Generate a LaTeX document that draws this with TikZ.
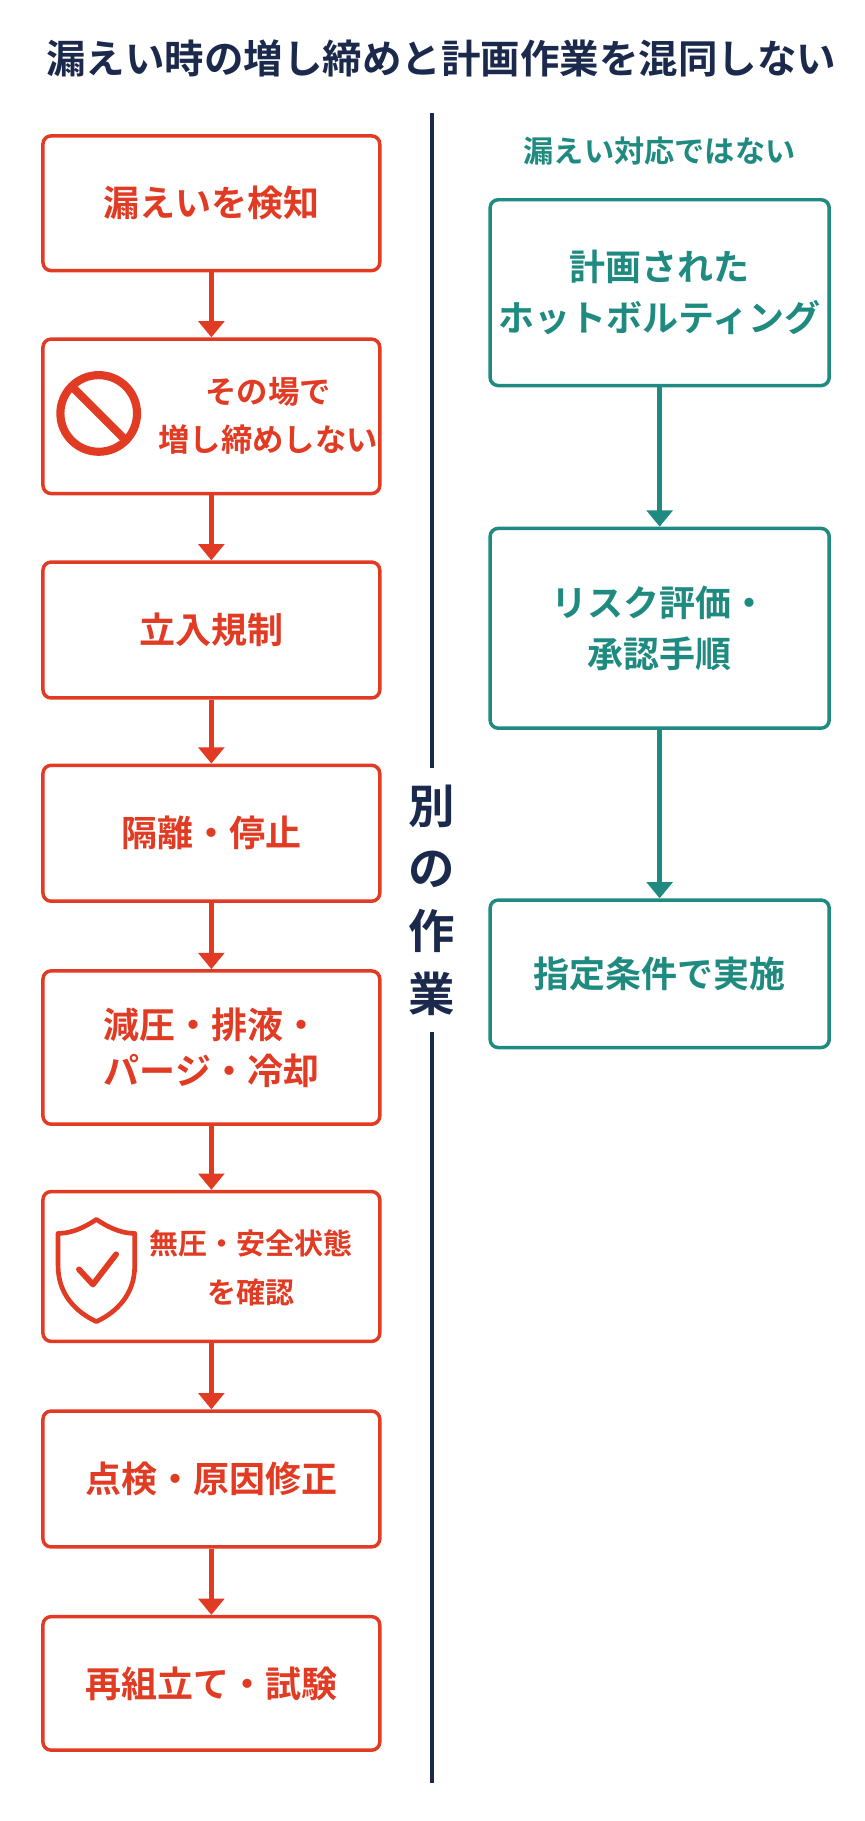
\documentclass[tikz,border=0pt]{standalone}
\usepackage{fontspec}
\setmainfont{Noto Sans CJK JP}[BoldFont={Noto Sans CJK JP Bold}]
\usetikzlibrary{arrows.meta}
\usetikzlibrary{positioning}
\definecolor{leakred}{HTML}{E23B24}
\definecolor{planteal}{HTML}{1F8B80}
\definecolor{navy}{HTML}{1B2A4C}
\tikzset{
  redbox/.style={draw=leakred, line width=3pt, rounded corners=7pt, minimum width=290pt, text=leakred, font=\fontsize{31}{40}\selectfont\bfseries, align=center},
  tealbox/.style={draw=planteal, line width=3pt, rounded corners=7pt, minimum width=292pt, text=planteal, font=\fontsize{31}{44}\selectfont\bfseries, align=center},
  redarrow/.style={leakred, line width=4pt, -{Triangle[length=14pt,width=22pt]}},
  tealarrow/.style={planteal, line width=4pt, -{Triangle[length=14pt,width=22pt]}}
}
\begin{document}
\begin{tikzpicture}[x=1pt,y=-1pt]
\useasboundingbox (0,0) rectangle (744,1568);
\fill[white] (0,0) rectangle (744,1568);

\node[text=navy, font=\fontsize{34}{40}\selectfont\bfseries] (title) at (380,50) {漏えい時の増し締めと計画作業を混同しない};

% left column
\node[redbox, minimum height=116pt] (detect) at (182,175) {漏えいを検知};
\node[redbox, minimum height=133pt] (notight) at (182,358.5) {};
\node[text=leakred, font=\fontsize{27}{42}\selectfont\bfseries, align=center] (notighttext) at (231,358) {その場で\\増し締めしない};
\node[redbox, minimum height=117pt] (access) at (182,542.5) {立入規制};
\node[redbox, minimum height=117pt] (isolate) at (182,717.5) {隔離・停止};
\node[redbox, minimum height=132pt] (depress) at (182,902) {減圧・排液・\\パージ・冷却};
\node[redbox, minimum height=129pt] (confirm) at (182,1090.5) {};
\node[text=leakred, font=\fontsize{25}{42}\selectfont\bfseries, align=center] (confirmtext) at (216,1092) {無圧・安全状態\\を確認};
\node[redbox, minimum height=117pt] (inspect) at (182,1273.5) {点検・原因修正};
\node[redbox, minimum height=115pt] (reassemble) at (182,1449.5) {再組立て・試験};

% icons
\draw[leakred, line width=7pt] (85,356) circle (33pt);
\draw[leakred, line width=7pt] (62,333) -- (108,379);
\draw[leakred, line width=4pt, line join=round] (83,1050) .. controls (98,1060) and (108,1062) .. (116,1062) -- (116,1090) .. controls (116,1115) and (100,1130) .. (83,1138) .. controls (66,1130) and (50,1115) .. (50,1090) -- (50,1062) .. controls (58,1062) and (68,1060) .. cycle;
\draw[leakred, line width=5pt, line cap=round, line join=round] (68,1093) -- (80,1106) -- (100,1080);

\draw[redarrow] (detect) -- (notight);
\draw[redarrow] (notight) -- (access);
\draw[redarrow] (access) -- (isolate);
\draw[redarrow] (isolate) -- (depress);
\draw[redarrow] (depress) -- (confirm);
\draw[redarrow] (confirm) -- (inspect);
\draw[redarrow] (inspect) -- (reassemble);

% divider
\coordinate (divtop) at (372,97);
\coordinate (divbot) at (372,1535);
\node[text=navy, font=\fontsize{40}{54}\selectfont\bfseries, align=center, inner sep=0pt] (separate) at (372,775) {別\\の\\作\\業};
\draw[navy, line width=4pt] (divtop) -- ([yshift=14pt]separate.north);
\draw[navy, line width=4pt] ([yshift=-14pt]separate.south) -- (divbot);

% right column
\node[text=planteal, font=\fontsize{26}{30}\selectfont\bfseries] (notleak) at (568,130) {漏えい対応ではない};
\node[tealbox, minimum height=160pt] (planned) at (568,252) {計画された\\ホットボルティング};
\node[tealbox, minimum height=172pt] (risk) at (568,541) {リスク評価・\\承認手順};
\node[tealbox, minimum height=127pt] (execute) at (568,838.5) {指定条件で実施};
\draw[tealarrow] (planned) -- (risk);
\draw[tealarrow] (risk) -- (execute);
\end{tikzpicture}
\end{document}
